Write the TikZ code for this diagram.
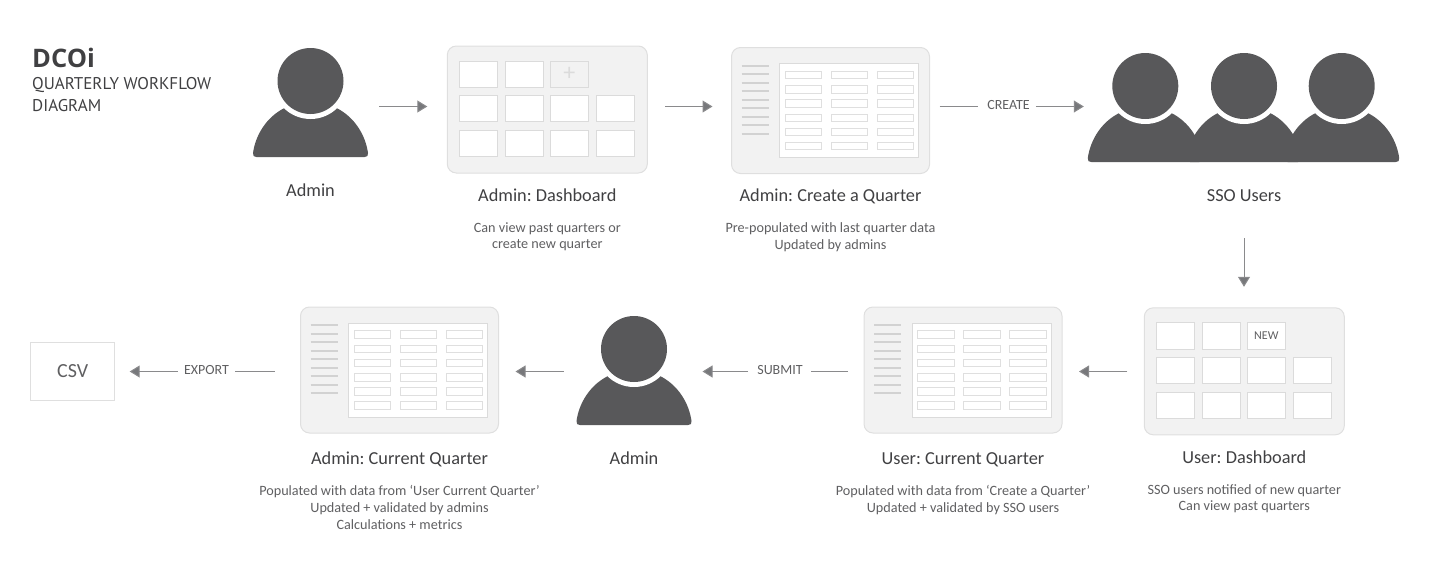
\documentclass[tikz,border=0pt]{standalone}
\usepackage{fontspec}
\setmainfont{Carlito}
\newfontfamily\headfont{Open Sans}
\newfontfamily\subfont{PT Sans}
\frenchspacing
\usetikzlibrary{arrows.meta, positioning}
\definecolor{personcol}{HTML}{58585A}
\definecolor{panelfill}{HTML}{F2F2F2}
\definecolor{panelline}{HTML}{DFDFDF}
\definecolor{cellline}{HTML}{DBDBDB}
\definecolor{rowline}{HTML}{DFDFDF}
\definecolor{sideline}{HTML}{D2D2D2}
\definecolor{linkcol}{HTML}{8A8A8C}
\definecolor{tipcol}{HTML}{77787B}
\definecolor{darktext}{HTML}{404042}
\definecolor{softtext}{HTML}{5F5F61}
\tikzset{
  personbox/.style={
    minimum width=115pt,
    minimum height=109pt,
    inner sep=0pt,
    outer sep=0pt
  },
  panel/.style={
    rectangle,
    rounded corners=9pt,
    draw=panelline,
    fill=panelfill,
    line width=1pt,
    inner sep=0pt,
    outer sep=0pt
  },
  gridcell/.style={
    rectangle,
    draw=cellline,
    fill=white,
    line width=1pt,
    minimum width=38pt,
    minimum height=26.5pt,
    inner sep=0pt,
    text=softtext
  },
  rowcell/.style={
    rectangle,
    draw=rowline,
    fill=white,
    line width=1pt,
    minimum width=36.5pt,
    minimum height=7.5pt,
    inner sep=0pt
  },
  tablebox/.style={
    rectangle,
    draw=cellline,
    fill=white,
    line width=1pt,
    minimum width=139pt,
    minimum height=94pt,
    inner sep=0pt
  },
  nametext/.style={
    font=\fontsize{18.3}{20}\selectfont,
    text=darktext,
    inner sep=0pt,
    text height=12pt,
    text depth=4pt
  },
  desctext/.style={
    font=\fontsize{14.2}{16.6}\selectfont,
    text=softtext,
    align=center,
    inner sep=0pt
  },
  linktext/.style={
    font=\fontsize{14}{14}\selectfont,
    text=softtext,
    inner sep=0pt
  },
  link/.style={draw=linkcol, line width=1pt},
  arrow/.style={link, -{Triangle[length=10pt, width=12pt, fill=tipcol]}},
  person/.pic={
    \fill[personcol] (-26,-27) .. controls (-44,-36) and (-55,-54) .. (-57.5,-72)
      .. controls (-58,-75) and (-56.5,-76) .. (-54,-76) -- (54,-76)
      .. controls (56.5,-76) and (58,-75) .. (57.5,-72)
      .. controls (55,-54) and (44,-36) .. (26,-27) -- cycle;
    \fill[white] (0,0) circle (38);
    \fill[personcol] (0,0) circle (33);
    \node[personbox] (-box) at (0,-21.5) {};
  },
  gridpanel/.pic={
    \node[panel, minimum width=200pt, minimum height=127pt] (-panel) at (0,0) {};
    \foreach \col/\cx in {1/-68.8, 2/-23, 3/22}
      \node[gridcell] (-c1\col) at (\cx,35.2) {};
    \foreach \row/\cy in {2/1, 3/-34}
      \foreach \col/\cx in {1/-68.8, 2/-23, 3/22, 4/68}
        \node[gridcell] (-c\row\col) at (\cx,\cy) {};
  },
  tablepanel/.pic={
    \node[panel, minimum width=198pt, minimum height=126pt] (-panel) at (0,0) {};
    \foreach \i in {0,...,8}
      \draw[sideline, line width=2pt] (-89,45-8.5*\i) -- (-62,45-8.5*\i);
    \node[tablebox] (-table) at (18.5,0) {};
    \foreach \row in {0,...,5}
      \foreach \cx [count=\col] in {-27, 19, 65}
        \node[rowcell] (-c\row\col) at (\cx,35.3-14.2*\row) {};
  }
}

\begin{document}
\begin{tikzpicture}[x=1pt, y=1pt]
\useasboundingbox (0,0) rectangle (1432,-570);

% heading
\node[anchor=west, inner sep=0pt, text=darktext, font=\headfont\bfseries\fontsize{25.5}{30}\selectfont] (heading) at (32,-58) {DCOi};
\node[anchor=north west, inner sep=0pt, text=darktext, align=left, font=\subfont\fontsize{17}{22}\selectfont] (subheading) at (32,-77) {QUARTERLY WORKFLOW\\DIAGRAM};

% top row
\coordinate (rowtop) at (0,-106.5);
\pic (admintop) at (310.5,-81) {person};
\pic (dashtop) at (547.3,-109.5) {gridpanel};
\pic (createtop) at (830.5,-110.5) {tablepanel};
\pic (ssoleft) at (1145.3,-86) {person};
\pic (ssomid) at (1244,-86) {person};
\pic (ssoright) at (1341.7,-86) {person};
\node[gridcell, fill=panelfill, text=cellline, font=\fontsize{24}{24}\selectfont] (pluscell) at (dashtop-c13) {+};

% bottom row
\coordinate (rowbottom) at (0,-371.5);
\node[rectangle, draw=panelline, line width=1pt, minimum width=84pt, minimum height=58.5pt, inner sep=0pt, outer sep=0pt, text=softtext, font=\fontsize{20}{20}\selectfont] (csv) at (72.7,-371.5) {CSV};
\pic (tableadmin) at (399.5,-370) {tablepanel};
\pic (adminbottom) at (634,-349) {person};
\pic (tableuser) at (963,-370) {tablepanel};
\pic (dashuser) at (1244.3,-371.3) {gridpanel};
\node[gridcell, font=\fontsize{12}{12}\selectfont] (newcell) at (dashuser-c13) {NEW};

% captions
\node[nametext, below=27pt of admintop-box] (admintopname) {Admin};
\node[nametext, below=16pt of dashtop-panel] (dashtopname) {Admin: Dashboard};
\node[desctext, below=17pt of dashtopname] (dashtopdesc) {Can view past quarters or\\create new quarter};
\node[nametext, below=16pt of createtop-panel] (createtopname) {Admin: Create a Quarter};
\node[desctext, below=17pt of createtopname] (createtopdesc) {Pre-populated with last quarter data\\Updated by admins};
\node[nametext, below=27pt of ssomid-box] (ssoname) {SSO Users};
\node[nametext, below=19pt of tableadmin-panel] (tableadminname) {Admin: Current Quarter};
\node[desctext, below=17pt of tableadminname] (tableadmindesc) {Populated with data from `User Current Quarter'\\Updated + validated by admins\\Calculations + metrics};
\node[nametext, below=27pt of adminbottom-box] (adminbottomname) {Admin};
\node[nametext, below=19pt of tableuser-panel] (tableusername) {User: Current Quarter};
\node[desctext, below=17pt of tableusername] (tableuserdesc) {Populated with data from `Create a Quarter'\\Updated + validated by SSO users};
\node[nametext, below=16pt of dashuser-panel] (dashusername) {User: Dashboard};
\node[desctext, below=17pt of dashusername] (dashuserdesc) {SSO users notified of new quarter\\Can view past quarters};

% link labels
\node[linktext] (createlabel) at (1008.5,-105.5) {CREATE};
\node[linktext] (submitlabel) at (780,-370.5) {SUBMIT};
\node[linktext] (exportlabel) at (206.5,-370.5) {EXPORT};

% connectors
\draw[arrow, shorten <=11pt, shorten >=20pt] (admintop-box.east |- rowtop) -- (dashtop-panel.west |- rowtop);
\draw[arrow, shorten <=18pt, shorten >=19pt] (dashtop-panel.east |- rowtop) -- (createtop-panel.west |- rowtop);
\draw[link, shorten <=10pt] (createtop-panel.east |- rowtop) -- ([xshift=-9pt]createlabel.west |- rowtop);
\draw[arrow, shorten <=6pt, shorten >=4pt] (createlabel.east |- rowtop) -- (ssoleft-box.west |- rowtop);
\draw[arrow, shorten <=76pt, shorten >=21pt] (ssomid-box.south) -- (ssomid-box.south |- dashuser-panel.north);
\draw[arrow, shorten <=17pt, shorten >=17pt] (dashuser-panel.west |- rowbottom) -- (tableuser-panel.east |- rowbottom);
\draw[link, shorten <=16pt, shorten >=8pt] (tableuser-panel.west |- rowbottom) -- (submitlabel.east |- rowbottom);
\draw[arrow, shorten <=9pt, shorten >=11pt] (submitlabel.west |- rowbottom) -- (adminbottom-box.east |- rowbottom);
\draw[arrow, shorten <=13pt, shorten >=17pt] (adminbottom-box.west |- rowbottom) -- (tableadmin-panel.east |- rowbottom);
\draw[link, shorten <=26pt, shorten >=6pt] (tableadmin-panel.west |- rowbottom) -- (exportlabel.east |- rowbottom);
\draw[arrow, shorten <=6pt, shorten >=15pt] (exportlabel.west |- rowbottom) -- (csv.east |- rowbottom);
\end{tikzpicture}
\end{document}
